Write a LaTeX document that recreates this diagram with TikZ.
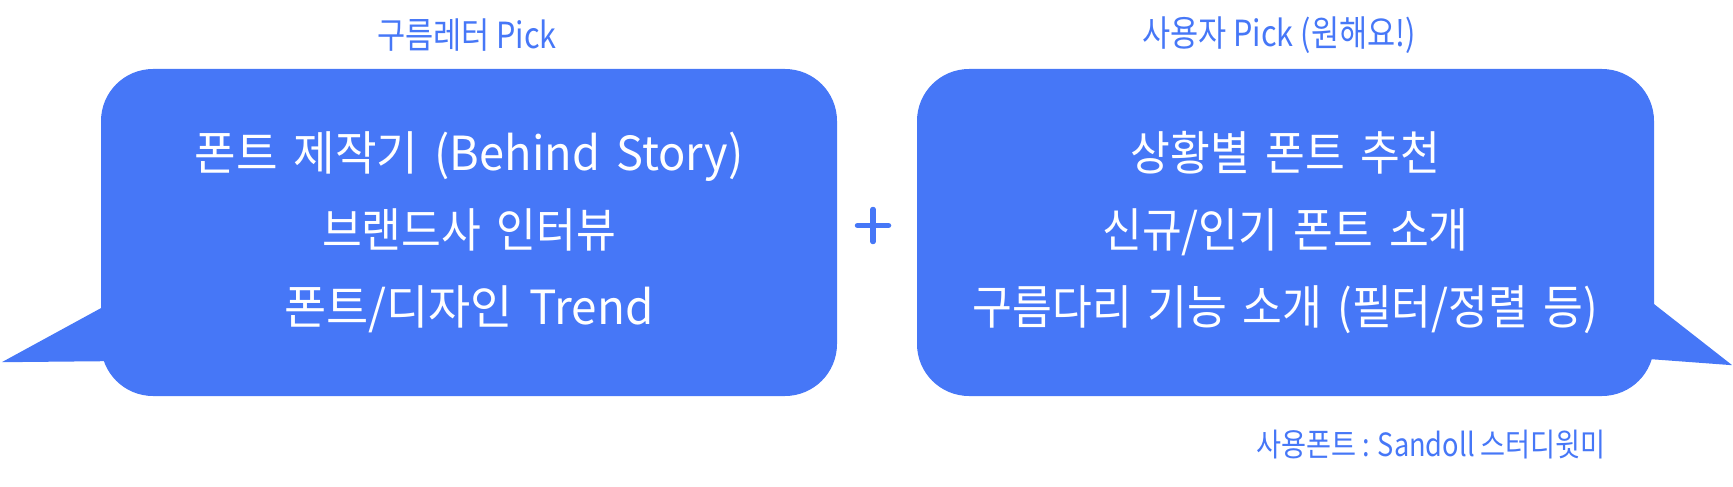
\documentclass[tikz,border=0pt]{standalone}
\usepackage{fontspec}
\usetikzlibrary{calc}
\newfontfamily\krfont[FakeStretch=0.85]{Noto Sans CJK KR}
\newfontfamily\krbody[FakeStretch=0.92,WordSpace=1.6]{Noto Sans CJK KR}
\definecolor{bblue}{HTML}{4677F7}
\begin{document}
\begin{tikzpicture}[x=1pt,y=-1pt,
  bubble/.style={fill=bblue, rounded corners=52pt, minimum height=327pt,
    inner sep=0pt, text=white, align=center,
    font=\krbody\fontsize{47}{77}\selectfont},
  title/.style={text=bblue, inner sep=0pt, font=\krfont\fontsize{36}{40}\selectfont},
  note/.style={text=bblue, inner sep=0pt, font=\krfont\fontsize{32}{36}\selectfont},
  tail/.style={fill=bblue},
  plusstroke/.style={draw=bblue, line width=5.5pt, line cap=round}]
\useasboundingbox (0,0) rectangle (1733,487);

\node[bubble, minimum width=736pt] (lb) at (469,232.5)
  {\scalebox{1.045}[1]{폰트 제작기 (Behind Story)}\\브랜드사 인터뷰\\\scalebox{1.06}[1]{폰트/디자인 Trend}};
\node[bubble, minimum width=737pt] (rb) at (1285.5,232.5)
  {상황별 폰트 추천\\신규/인기 폰트 소개\\구름다리 기능 소개 (필터/정렬 등)};

\fill[tail] ($(lb.south west)+(0,-88)$) -- ($(lb.south west)+(-99,-34)$)
  -- ($(lb.south west)+(4,-35)$) -- ($(lb.south west)+(30,-60)$) -- cycle;
\fill[tail] ($(rb.south east)+(0,-92)$) -- ($(rb.south east)+(78,-31)$)
  -- ($(rb.south east)+(-3,-37)$) -- ($(rb.south east)+(-30,-60)$) -- cycle;

\node[title] (t1) at (467,35) {구름레터 Pick};
\node[title] (t2) at (1279,35) {사용자 Pick (원해요!)};
\node[note] (fn) at (1431,445) {사용폰트 : Sandoll 스터디윗미};

\coordinate (plus) at (873,225.5);
\draw[plusstroke] ($(plus)+(-15.5,0)$) -- ($(plus)+(15.5,0)$);
\draw[plusstroke] ($(plus)+(0,-16)$) -- ($(plus)+(0,16)$);
\end{tikzpicture}
\end{document}
